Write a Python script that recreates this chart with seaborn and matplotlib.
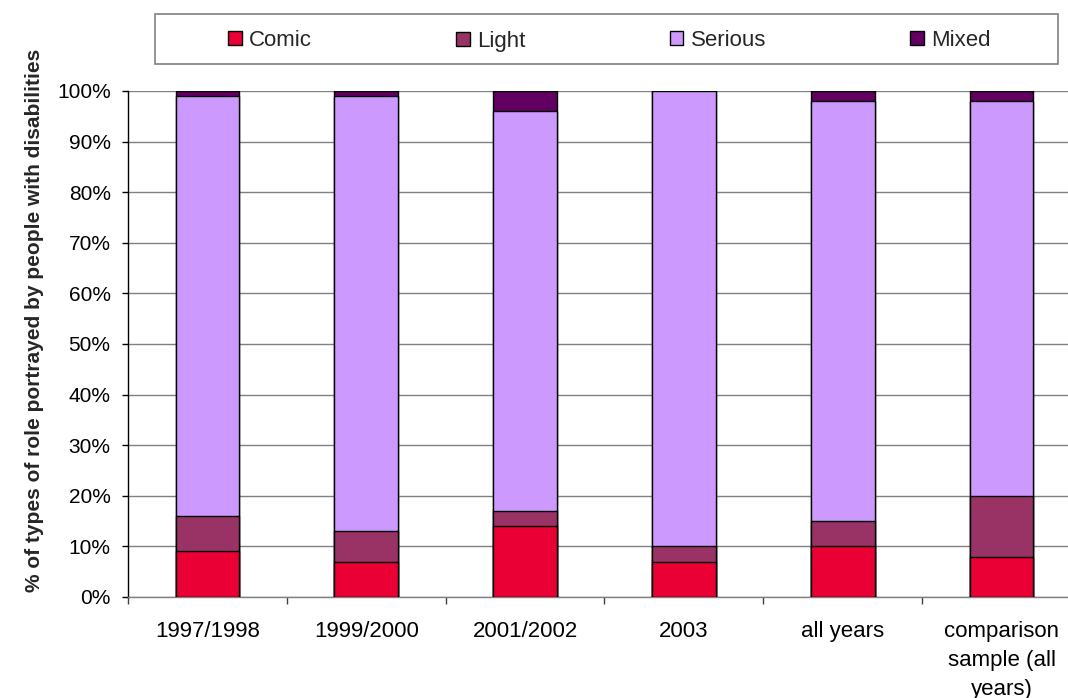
import matplotlib
matplotlib.use("Agg")
import matplotlib.pyplot as plt
import seaborn as sns
import pandas as pd
import numpy as np
from matplotlib.patches import Rectangle, Patch
from matplotlib.transforms import Affine2D

# Share (%) of each type of role, per period
periods = ["1997/1998", "1999/2000", "2001/2002", "2003", "all years",
           "comparison\nsample (all\nyears)"]
comic = [9, 7, 14, 7, 10, 8]
light = [7, 6, 3, 3, 5, 12]
serious = [83, 86, 79, 90, 83, 78]
mixed = [1, 1, 4, 0, 2, 2]

series_names = ["Comic", "Light", "Serious", "Mixed"]
colors = ["#EA0035", "#993366", "#CC99FF", "#620062"]
y_ticks = list(range(0, 101, 10))
y_tick_labels = [f"{v}%" for v in y_ticks]

sns.set_theme(style="white")
plt.rcParams["font.family"] = ["Liberation Sans", "DejaVu Sans"]

W, H = 1068, 698
fig = plt.figure(figsize=(W / 100, H / 100), dpi=100)
# plot area runs slightly past the right edge of the canvas
ax = fig.add_axes([128 / W, 1 - 597 / H, 953 / W, 506 / H])

# Stacked bars: draw cumulative totals from the top series down
stack = np.cumsum([comic, light, serious, mixed], axis=0)
for name, tops, color in reversed(list(zip(series_names, stack, colors))):
    df = pd.DataFrame({"period": periods, "top": tops})
    sns.barplot(data=df, x="period", y="top", color=color, saturation=1,
                width=0.4, edgecolor="black", linewidth=1, errorbar=None,
                ax=ax, zorder=3)

ax.set_xlim(-0.5, len(periods) - 0.5)
ax.set_ylim(0, 100)
ax.set_yticks(y_ticks)
ax.set_yticklabels(y_tick_labels, fontsize=15, color="black")
ax.set_xticks(range(len(periods)))
ax.set_xticklabels(periods, fontsize=16, color="black", linespacing=1.5)
ax.set_xticks(np.arange(-0.5, len(periods), 1.0), minor=True)
ax.tick_params(axis="x", which="major", length=0, pad=17)
ax.tick_params(axis="x", which="minor", length=5, width=1, color="#404040",
               direction="out", bottom=True)
ax.tick_params(axis="y", which="major", length=4.5, width=1, color="black",
               direction="out", left=True, pad=8)

ax.yaxis.grid(True, color="#808080", linewidth=1)
ax.set_axisbelow(True)
for side in ["top", "right"]:
    ax.spines[side].set_visible(False)
ax.spines["left"].set_color("black")
ax.spines["left"].set_linewidth(1)
ax.spines["bottom"].set_color("#808080")
ax.spines["bottom"].set_linewidth(1)

ax.set_xlabel("")
ax.set_ylabel("% of types of role portrayed by people with disabilities",
              fontsize=15, fontweight="bold")
ax.yaxis.set_label_coords(-0.088, 0.547)

# Legend row in a framed box across the top
handles = [Patch(facecolor=c, edgecolor="black", linewidth=1) for c in colors]
leg = fig.legend(handles, series_names, loc="center",
                 bbox_to_anchor=(609.5 / W, 1 - 40 / H),
                 ncol=4, frameon=False, fontsize=16, handlelength=0.6,
                 handleheight=0.6, handletextpad=0.33, columnspacing=6.5,
                 borderpad=0, borderaxespad=0)

# keep every legend entry on a common baseline (the descender in "Light"
# otherwise lifts its entry slightly)
nudge = Affine2D().translate(0, -1)
light_text = leg.texts[1]
light_text.set_transform(light_text.get_transform() + nudge)
light_patch = leg.legend_handles[1]
light_patch.set_transform(light_patch.get_data_transform() + nudge)

fig.add_artist(Rectangle((155 / W, 1 - 64 / H), 903 / W, 50 / H,
                         transform=fig.transFigure, fill=False,
                         edgecolor="#808080", linewidth=1.2))

fig.savefig("out.png", dpi=100)
